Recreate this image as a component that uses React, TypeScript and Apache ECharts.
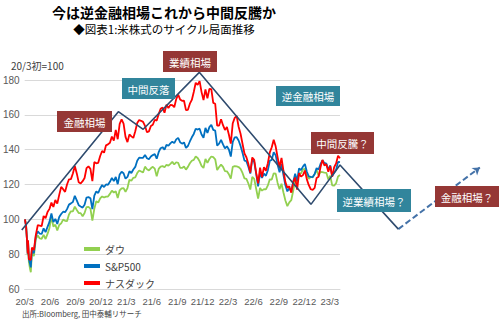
import React, { useEffect, useRef } from "react";
import * as echarts from "echarts";

// ---- data ----
const seriesNames = ["ダウ", "S&P500", "ナスダック"];
const seriesColors = ["#92D050", "#0070C0", "#FF0000"];

// early March 2020 daily closes, then weekly (Friday) closes from 2020-04-03
const earlyDates = ["2020-03-02", "2020-03-06", "2020-03-09", "2020-03-12", "2020-03-13", "2020-03-16", "2020-03-20", "2020-03-23", "2020-03-27"];
const weeklyStart = "2020-04-03";

const dowBase = 26703;
const spBase = 3090;
const nasdaqBase = 8952;

const dowClose = [
  26703, 25864, 23851, 21200, 23186, 20189, 19174, 18592, 21637,
  21053, 23719, 24242, 23775, 23724, 24331, 23685, 24465, 25383, 27111, 25606, 25871, 25016, 25827, 26075, 26672, 26470, 26428, 27433, 27931,
  27930, 28654, 28133, 27666, 27657, 27174, 27683, 28586, 28606, 28335, 26502, 28323, 29479, 29263, 29910, 30218, 30046, 30179, 30199, 30606,
  31098, 30814, 30997, 29983, 31148, 31458, 31494, 30932, 31496, 32779, 32628, 33073, 33153, 33801, 34200, 34043, 33875, 34778, 34382, 34208,
  34529, 34756, 34480, 33290, 34433, 34786, 34870, 34687, 35062, 34935, 35209, 35515, 35120, 35455, 35369, 34607, 34584, 34798, 34326, 34746,
  35295, 35677, 35820, 36328, 36100, 35602, 34899, 34580, 35971, 35365, 35950, 36338,
  36231, 35912, 34265, 34725, 35089, 34738, 34079, 34058, 33615, 32944, 34755, 34862, 34818, 34721, 34451, 33811, 32977, 32899, 32197, 31262,
  33213, 32899, 31393, 29889, 31501, 31097, 31338, 31289, 31899, 32845, 32803, 33761, 33707, 32283, 31318, 32151, 30822, 29590, 28726, 29297,
  29635, 31083, 32861, 32403, 33748, 33746, 34347, 34430, 33477, 32920, 33204, 33147,
  33631, 34303, 33375, 33978, 33926, 33869, 33827, 32817, 33391, 31910, 31862, 32238, 33274, 33485,
];

const spClose = [
  3090, 2972, 2747, 2481, 2711, 2386, 2305, 2237, 2541,
  2489, 2790, 2875, 2837, 2831, 2930, 2864, 2955, 3044, 3194, 3041, 3098, 3009, 3130, 3185, 3225, 3216, 3271, 3351, 3373,
  3397, 3508, 3427, 3341, 3319, 3298, 3348, 3477, 3484, 3465, 3270, 3509, 3585, 3557, 3638, 3699, 3663, 3709, 3703, 3756,
  3825, 3768, 3841, 3714, 3887, 3934, 3907, 3811, 3842, 3943, 3913, 3975, 4020, 4129, 4185, 4180, 4181, 4233, 4174, 4156,
  4204, 4230, 4247, 4166, 4281, 4352, 4370, 4327, 4412, 4395, 4437, 4468, 4442, 4509, 4535, 4459, 4433, 4455, 4357, 4391,
  4471, 4545, 4605, 4697, 4683, 4698, 4595, 4538, 4712, 4621, 4726, 4766,
  4677, 4663, 4398, 4432, 4501, 4419, 4349, 4385, 4329, 4204, 4463, 4543, 4546, 4488, 4393, 4272, 4132, 4123, 4023, 3901,
  4158, 4109, 3901, 3675, 3912, 3825, 3899, 3863, 3962, 4130, 4145, 4280, 4228, 4058, 3924, 4067, 3873, 3693, 3586, 3640,
  3583, 3753, 3901, 3771, 3993, 3965, 4026, 4072, 3934, 3852, 3845, 3840,
  3895, 3999, 3973, 4071, 4136, 4090, 4079, 3970, 4046, 3862, 3917, 3971, 4109, 4105,
];

const nasdaqClose = [
  8952, 8576, 7950, 7201, 7875, 6905, 6880, 6861, 7502,
  7373, 8154, 8650, 8634, 8605, 9121, 9015, 9325, 9490, 9815, 9589, 9946, 9757, 10208, 10617, 10503, 10363, 10745, 11011, 11020,
  11312, 11696, 11313, 10854, 10794, 10914, 11076, 11580, 11672, 11548, 10912, 11895, 11830, 11855, 12206, 12464, 12378, 12756, 12805, 12888,
  13202, 12998, 13543, 13071, 13856, 14095, 13874, 13192, 12920, 13320, 13215, 13138, 13480, 13900, 14052, 14016, 13962, 13752, 13430, 13471,
  13749, 13814, 14069, 14030, 14360, 14639, 14701, 14427, 14837, 14673, 14835, 14822, 14714, 15129, 15364, 15115, 15044, 15048, 14567, 14580,
  14897, 15090, 15498, 15971, 15861, 16057, 15491, 15085, 15630, 15170, 15653, 15645,
  14936, 14894, 13768, 13771, 14098, 13791, 13548, 13694, 13313, 12843, 13894, 14169, 14262, 13711, 13351, 12839, 12335, 12145, 11805, 11355,
  12131, 12013, 11341, 10798, 11608, 11128, 11635, 11452, 11834, 12391, 12657, 13047, 12706, 12142, 11631, 12112, 11448, 10868, 10576, 10652,
  10321, 10860, 11103, 10475, 11323, 11146, 11226, 11462, 11005, 10705, 10498, 10466,
  10569, 11079, 11140, 11622, 12007, 11718, 11787, 11395, 11689, 11138, 11631, 11824, 12222, 12088,
];

const tickLabels = ["20/3", "20/6", "20/9", "20/12", "21/3", "21/6", "21/9", "21/12", "22/3", "22/6", "22/9", "22/12", "23/3"];

// cycle guide line (days since 2020-03-01, index level)
const trendDay = [-8, 338, 427, 628, 1028, 1132, 1341];
const trendLevel = [93.9, 161.8, 151.7, 184.4, 108.6, 131.2, 94.4];
const forecastDay = [1341, 1633];
const forecastLevel = [94.4, 129.8];

// annotation labels
const phaseLabels = ["金融相場", "中間反落", "業績相場", "逆金融相場", "中間反騰？", "逆業績相場？", "金融相場？"];

// ---- helpers ----
const ORIGIN = Date.UTC(2020, 2, 1);
const DAY = 86400000;
const dayOf = (s: string) => (Date.parse(s + "T00:00:00Z") - ORIGIN) / DAY;

function buildDays(n: number): number[] {
  const out: number[] = earlyDates.map(dayOf);
  const w0 = dayOf(weeklyStart);
  for (let i = 0; out.length < n; i++) out.push(w0 + 7 * i);
  return out;
}

const JP = "'Noto Sans CJK JP', 'Noto Sans', sans-serif";
const NUM = "'Liberation Sans', 'Noto Sans', sans-serif";
const RED_BOX = "#953735";
const TEAL_BOX = "#31859C";

function box(text: string, x: number, y: number, w: number, h: number, fill: string) {
  return {
    type: "group",
    z: 100,
    children: [
      { type: "rect", shape: { x, y, width: w, height: h }, style: { fill }, z: 100 },
      {
        type: "text",
        x: x + w / 2,
        y: y + h / 2 + 0.5,
        z: 101,
        style: {
          text,
          fill: "#ffffff",
          fontSize: 10.5,
          fontFamily: JP,
          align: "center",
          verticalAlign: "middle",
          textAlign: "center",
          textVerticalAlign: "middle",
        },
      },
    ],
  };
}

function txt(text: string, x: number, y: number, size: number, opts: any = {}) {
  return {
    type: "text",
    x,
    y,
    z: 100,
    style: {
      text,
      fill: opts.color || "#000",
      fontSize: size,
      lineHeight: size,
      fontWeight: opts.weight || "normal",
      fontFamily: opts.family || JP,
      align: opts.align || "left",
      verticalAlign: "middle",
      textAlign: opts.align || "left",
      textVerticalAlign: "middle",
    },
  };
}

export default function App() {
  const ref = useRef<HTMLDivElement>(null);

  useEffect(() => {
    if (!ref.current) return;
    const chart = echarts.init(ref.current, undefined, { renderer: "svg" });

    const closes = [dowClose, spClose, nasdaqClose];
    const bases = [dowBase, spBase, nasdaqBase];
    const days = buildDays(dowClose.length);

    const dataSeries = closes.map((arr, k) => ({
      name: seriesNames[k],
      type: "line",
      xAxisIndex: 0,
      yAxisIndex: 0,
      symbol: "none",
      z: 2 + k,
      lineStyle: { color: seriesColors[k], width: 1.8 },
      itemStyle: { color: seriesColors[k] },
      data: arr.map((v, i) => [days[i], (v / bases[k]) * 100]),
    }));

    const PX_PER_DAY = 316 / 1132;
    const PX_PER_UNIT = 209 / 120;
    const g2MinX = -40;
    const g2MaxX = 1700;
    const g2MaxY = 200;

    const option: any = {
      animation: false,
      backgroundColor: "#ffffff",
      grid: [
        { left: 24, top: 80, width: 316, height: 209 },
        {
          left: 24 + g2MinX * PX_PER_DAY,
          top: 80 - (g2MaxY - 180) * PX_PER_UNIT,
          width: (g2MaxX - g2MinX) * PX_PER_DAY,
          height: 209 + (g2MaxY - 180) * PX_PER_UNIT,
        },
      ],
      xAxis: [
        {
          type: "value",
          gridIndex: 0,
          min: 0,
          max: 1132,
          interval: 91.25,
          axisLine: { show: true, lineStyle: { color: "#D9D9D9", width: 1 } },
          axisTick: { show: false },
          splitLine: { show: false },
          axisLabel: {
            margin: 7,
            fontSize: 9.5,
            color: "#595959",
            fontFamily: NUM,
            showMaxLabel: false,
            formatter: (v: number) => {
              const q = v / 91.25;
              const r = Math.round(q);
              return Math.abs(q - r) < 0.001 && r >= 0 && r < tickLabels.length ? tickLabels[r] : "";
            },
          },
        },
        { type: "value", gridIndex: 1, min: g2MinX, max: g2MaxX, show: false },
      ],
      yAxis: [
        {
          type: "value",
          gridIndex: 0,
          min: 60,
          max: 180,
          interval: 20,
          axisLine: { show: false },
          axisTick: { show: false },
          splitLine: { lineStyle: { color: "#D9D9D9", width: 1 } },
          axisLabel: { margin: 5, fontSize: 10, color: "#595959", fontFamily: NUM },
        },
        { type: "value", gridIndex: 1, min: 60, max: g2MaxY, show: false },
      ],
      legend: {
        data: seriesNames,
        orient: "vertical",
        left: 79,
        top: 238,
        icon: "rect",
        itemWidth: 16,
        itemHeight: 4,
        itemGap: 5,
        textStyle: { fontSize: 10, color: "#404040", fontFamily: JP, lineHeight: 12 },
      },
      series: [
        ...dataSeries,
        {
          name: "cycle",
          type: "line",
          xAxisIndex: 1,
          yAxisIndex: 1,
          symbol: "none",
          z: 10,
          silent: true,
          lineStyle: { color: "#2F4B6E", width: 1.6 },
          data: trendDay.map((d, i) => [d, trendLevel[i]]),
          markLine: {
            silent: true,
            symbol: ["none", "arrow"],
            symbolSize: 7,
            label: { show: false },
            lineStyle: { color: "#4472A8", width: 2, type: [6, 3] },
            data: [
              [
                { coord: [forecastDay[0], forecastLevel[0]] },
                { coord: [forecastDay[1], forecastLevel[1]] },
              ],
            ],
          },
        },
      ],
      graphic: [
        txt("今は逆金融相場これから中間反騰か", 164, 12, 14, { align: "center", weight: "bold" }),
        txt("◆図表1:米株式のサイクル局面推移", 164, 29, 11.5, { align: "center" }),
        txt("20/3初=100", 11, 65, 10, { color: "#404040" }),
        txt("出所:Bloomberg, 田中泰輔リサーチ", 22, 313, 7.5, { color: "#404040" }),
        box(phaseLabels[0], 57, 111, 55, 21, RED_BOX),
        box(phaseLabels[1], 122, 78, 53, 21, TEAL_BOX),
        box(phaseLabels[2], 163, 51, 54, 21, RED_BOX),
        box(phaseLabels[3], 276, 86, 64, 20, TEAL_BOX),
        box(phaseLabels[4], 311, 132, 63, 22, RED_BOX),
        box(phaseLabels[5], 337, 189, 74, 23, TEAL_BOX),
        box(phaseLabels[6], 435, 186, 64, 21, RED_BOX),
      ],
    };

    chart.setOption(option);
    return () => chart.dispose();
  }, []);

  return <div ref={ref} style={{ width: 500, height: 328, position: "absolute", left: 0, top: 0 }} />;
}
